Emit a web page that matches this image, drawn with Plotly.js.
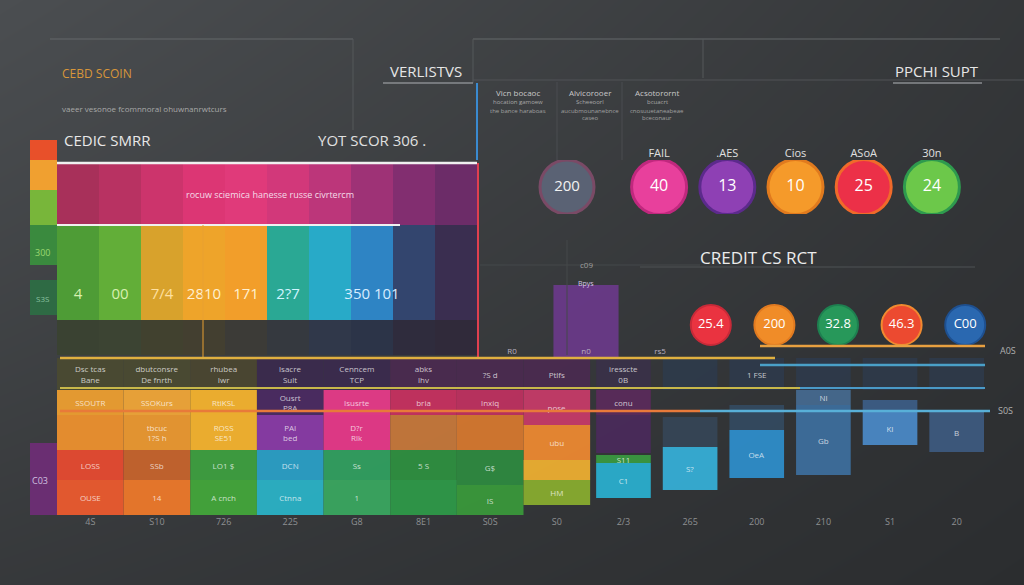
<!DOCTYPE html>
<html>
<head>
<meta charset="utf-8">
<script src="https://cdn.plot.ly/plotly-3.0.1.min.js"></script>
<style>html,body{margin:0;padding:0;background:#333538;}#chart{width:1024px;height:585px;}</style>
</head>
<body>
<div id="chart"></div>
<script>
// ---------------- DATA ----------------
// top-left band chart (ten segments)
const bandCats = ["b1","b2","b3","b4","b5","b6","b7","b8","b9","b10"];
const bandText = ["4","00","7/4","2810","171","2?7","","350 101","",""];
const bandDark = [35,35,35,35,35,35,35,35,35,35];
const bandBright = [95,95,95,95,95,95,95,95,95,95];
const bandPink = [62,62,62,62,62,62,62,62,62,62];

// left strip
const stripCats = ["L","L","L","L","L","L"];
const stripBase = [0,200,250,290,325,355];
const stripLen = [72,35,40,35,30,22];

// circles row 1
const slateCat = ["VSR"];
const slateVal = [200];
const circCats = ["FAIL",".AES","Cios","ASoA","30n"];
const circVals = [40,13,10,25,24];

// circles row 2
const circ2Cats = ["25.4","200","32.8","46.3","C00"];
const circ2Vals = [25.4,200,32.8,46.3,0];

// middle purple bar
const midCats = ["R0","n0","rs5"];
const midVals = [0,73,0];

// bottom grid (14 columns, 5 layers)
const gridCats = ["4S","S10","726","225","G8","8E1","S0S","S0","2/3","265","200","210","S1","20"];
const l1Base = [0,0,0,0,0,0,0,10,17,25,37,40,70,63];
const l1H    = [35,35,35,35,35,35,30,25,35,43,48,70,33,40];
const l1Text = ["OUSE","14","A cnch","Ctnna","1","","IS","HM","C1","S?","OeA","Gb","KI","B"];
const l2Base = [35,35,35,35,35,35,30,35,52,68,85,110,103,0];
const l2H    = [30,30,30,30,30,30,35,20,8,30,25,15,12,0];
const l2Text = ["LOSS","SSb","LO1 $","DCN","Ss","5 S","G$","","S11","","","Nl","",""];
const l3Base = [65,65,65,65,65,65,65,55,62,0,0,0,0,0];
const l3H    = [35,35,35,35,35,35,35,35,38,0,0,0,0,0];
const l3Text = ["","tbcuc<br>1?S h","ROSS<br>SE51","PAI<br>bed","D?r<br>Rlk","","","ubu","","","","","",""];
const l4Base = [100,100,100,100,100,100,100,90,100,0,0,0,0,0];
const l4H    = [25,25,25,25,25,25,25,35,25,0,0,0,0,0];
const l4Text = ["SSOUTR","SSOKurs","RtiKSL","Ousrt<br>P8A","Isusrte","bria","lnxiq","pose","conu","","","","",""];
const l5Base = [125,125,125,125,125,125,125,125,125,125,125,125,125,125];
const l5H    = [32,32,32,32,32,32,32,32,32,32,32,32,32,32];
const l5Text = ["Dsc tcas<br>Bane","dbutconsre<br>De fnrth","rhubea<br>Iwr","lsacre<br>Sult","Cenncem<br>TCP","abks<br>lhv","?S d","Ptlfs","iresscte<br>0B","","1 FSE","","",""];

// ---------------- STYLES ----------------
const FONT = "Open Sans, DejaVu Sans, sans-serif";
const bandDarkColors = ["#3a4232","#3c4433","#41412f","#433f30","#3c3b37","#35393f","#30384a","#2c3448","#2f2c3d","#302a3a"];
const bandBrightColors = ["#4e9c36","#62ae38","#d8a22c","#eea42a","#f29e2a","#2aa894","#28aac8","#2e84c4","#33456e","#3a2e50"];
const bandPinkColors = ["#a8305a","#b83262","#cc346c","#dc3674","#e03a7a","#d2387a","#bc367a","#9e3276","#822e70","#6c2c68"];
const stripColors = ["#6a2e72","#2e6a44","#3a8a3e","#78b63a","#f0a030","#e8502a"];
const circColors = ["#e8409c","#8e40b4","#f59a2a","#ec3048","#6cc84a"];
const circLines = ["#c0287e","#5c2a8c","#e07a1e","#f06a2a","#2e9a4e"];
const circ2Colors = ["#ea3340","#f08c28","#27985a","#ec4a30","#2a68b0"];
const circ2Lines = ["#c82a38","#e07a20","#1e8050","#f08a30","#1e5090"];
const l1Colors = ["#ee5a2e","#f07a2a","#43a83a","#2ab4c8","#3aa860","#2e9a48","#3a9a3a","#8aae2e","#2ab0d0","#36b0d8","#2e8fcc","#3d6f9e","#4a8ac8","#3d5a80"];
const l2Colors = ["#e84a30","#c8642c","#3da040","#2aa0c8","#30a060","#2e9040","#2e8a40","#f0b030","#3a9a40","#364656","#344a60","#466a90","#3c5e86","#3d5a80"];
const l3Colors = ["#f0922e","#ee9a30","#f7b52e","#8a3aa8","#e8388a","#c8783a","#d8782e","#f08a30","#4a2a5a","#000","#000","#000","#000","#000"];
const l4Colors = ["#f0a030","#f3a838","#f7b52e","#4a2a62","#e83a8a","#c83060","#c03060","#c83a68","#5a2a5a","#000","#000","#000","#000","#000"];
const l5Colors = ["#4a4a32","#4a4a32","#4a4630","#3a2a4e","#3a2a4e","#4a2a50","#4a2a50","#4a2a50","#3a3048","#2e3a4a","#2e3a4a","#2e3a4a","#2e3a4a","#2e3a4a"];

const fx = p => p / 1024;
const fy = p => 1 - p / 585;
const domX = (a, b) => [fx(a), fx(b)];
const domY = (top, bottom) => [fy(bottom), fy(top)];
const hid = (extra) => Object.assign({visible:false, fixedrange:true, showgrid:false, zeroline:false}, extra);

const traces = [];
// background gradient
traces.push({type:'heatmap', x:[0,1], y:[0,1], z:[[0.35,0.0],[1,0.3]], zsmooth:'best',
  colorscale:[[0,'#2b2d2f'],[1,'#4b4e51']], showscale:false, hoverinfo:'skip', xaxis:'x', yaxis:'y'});

// band chart
const sum = (a,b) => a.map((v,i)=>v+b[i]);
traces.push({type:'bar', x:bandCats, y:bandDark, base:bandCats.map(()=>0), width:1, xaxis:'x2', yaxis:'y2',
  marker:{color:bandDarkColors, line:{width:0}}, hoverinfo:'skip'});
traces.push({type:'bar', x:bandCats, y:bandBright, base:bandDark, width:1, xaxis:'x2', yaxis:'y2',
  marker:{color:bandBrightColors, line:{width:0}}, hoverinfo:'skip'});
traces.push({type:'bar', x:bandCats, y:bandPink, base:sum(bandDark,bandBright), width:1, xaxis:'x2', yaxis:'y2',
  marker:{color:bandPinkColors, line:{width:0}}, hoverinfo:'skip'});
traces.push({type:'scatter', mode:'text', x:bandCats, y:bandCats.map(()=>60), text:bandText, xaxis:'x2', yaxis:'y2',
  textfont:{family:FONT, size:15, color:['#d8f0b0','#d8f0b0','#ffe0a0','#fff0d0','#fff0d0','#d0f4ff','#fff','#d8ecff','#fff','#fff']}, hoverinfo:'skip'});

// left strip
traces.push({type:'bar', x:stripCats, y:stripLen, base:stripBase, width:1, xaxis:'x8', yaxis:'y8',
  marker:{color:stripColors, line:{width:0}}, hoverinfo:'skip'});

// middle purple bar
traces.push({type:'bar', x:midCats, y:midVals, width:0.88, xaxis:'x7', yaxis:'y7',
  marker:{color:'#6c3a8c', opacity:0.9, line:{width:0}}, hoverinfo:'skip'});
traces.push({type:'scatter', mode:'text', x:midCats, y:midCats.map(()=>6), text:midCats, xaxis:'x7', yaxis:'y7',
  textfont:{family:FONT, size:8, color:'#b8b0c0'}, hoverinfo:'skip'});

// bottom grid layers
const layer = (base, h, colors, text) => ({type:'bar', x:gridCats, y:h, base:base,
  width:gridCats.map((c,i)=> i < 8 ? 1 : 0.82), xaxis:'x6', yaxis:'y6',
  marker:{color:colors, opacity:0.93, line:{width:0}}, text:text, textposition:'inside', insidetextanchor:'middle',
  textangle:0, constraintext:'none', textfont:{family:FONT, size:8, color:'rgba(255,255,255,0.72)'}, hoverinfo:'skip'});
traces.push(layer(l5Base, l5H, l5Colors, l5Text));
traces.push(layer(l4Base, l4H, l4Colors, l4Text));
traces.push(layer(l3Base, l3H, l3Colors, l3Text));
traces.push(layer(l2Base, l2H, l2Colors, l2Text));
traces.push(layer(l1Base, l1H, l1Colors, l1Text));

// circles row 1
traces.push({type:'scatter', mode:'markers+text', x:slateCat, y:[0.5], text:slateVal.map(String), xaxis:'x4', yaxis:'y4',
  marker:{size:54, color:'#5a6274', line:{width:3, color:'#7a4a66'}},
  textfont:{family:FONT, size:15, color:'#f2f2f2'}, textposition:'middle center', hoverinfo:'skip'});
traces.push({type:'scatter', mode:'markers+text', x:circCats, y:circCats.map(()=>0.5), text:circVals.map(String), xaxis:'x3', yaxis:'y3',
  marker:{size:55, color:circColors, line:{width:3, color:circLines}},
  textfont:{family:FONT, size:16, color:'#ffffff'}, textposition:'middle center', hoverinfo:'skip'});

// circles row 2
traces.push({type:'scatter', mode:'markers+text', x:circ2Cats, y:circ2Cats.map(()=>0.5), text:circ2Cats, xaxis:'x5', yaxis:'y5',
  marker:{size:40, color:circ2Colors, line:{width:2, color:circ2Lines}},
  textfont:{family:FONT, size:13, color:'#ffffff'}, textposition:'middle center', hoverinfo:'skip'});

// ---------------- DECORATION ----------------
const line = (x0,y0,x1,y1,color,w) => ({type:'line', xref:'paper', yref:'paper', x0:fx(x0), y0:fy(y0), x1:fx(x1), y1:fy(y1), line:{color:color, width:w}});
const shapes = [
  line(50,39,353,39,'#65686b',1), line(353,39,353,130,'#55585b',1),
  line(473,39,1000,39,'#65686b',1), line(703,39,703,78,'#55585b',1), line(473,39,473,83,'#55585b',1),
  line(473,80,1024,80,'#505356',1),
  line(383,83,473,83,'#8a8d90',1.5), line(477,83,477,160,'#3a8ad0',2),
  line(557,82,557,160,'#4a4d50',1), line(622,82,622,160,'#4a4d50',1),
  line(893,83,982,83,'#8a8d90',1.5),
  line(640,267,975,267,'#4f5255',1),
  line(480,265,700,265,'#45484b',1), line(567,240,567,355,'#45484b',1),
  line(57,163,477,163,'#f0f0f0',2.5), line(57,225,400,225,'#f0f0f0',2),
  line(478,163,478,357,'#e04050',2),
  line(203,225,203,358,'#e8a030',1),
  line(760,346,985,346,'#e8a040',2.5),
  line(60,358,775,358,'#e0b040',2.5), line(760,365,985,365,'#4aa0c8',2.5),
  line(60,388,800,388,'#c8b84a',2), line(800,388,985,388,'#4a9ac8',2),
  line(60,411,700,411,'#e87a3a',2.5), line(700,411,990,411,'#58b0d8',2.5)
];

const ann = (text, x, y, size, color, anchor, extra) => Object.assign({text:text, xref:'paper', yref:'paper', x:fx(x), y:fy(y),
  xanchor:anchor || 'center', yanchor:'middle', showarrow:false, font:{family:FONT, size:size, color:color}}, extra || {});
const annotations = [
  ann('CEBD SCOIN', 60, 73, 12, '#d8963a', 'left'),
  ann('vaeer vesonoe fcomnnoral ohuwnanrwtcurs', 60, 108, 8, '#a8a8a8', 'left'),
  ann('CEDIC SMRR', 62, 140, 15, '#e8e8e8', 'left'),
  ann('YOT SCOR 306 .', 316, 140, 15, '#e0e0e0', 'left'),
  ann('VERLISTVS', 388, 71, 15, '#e6e6e6', 'left'),
  ann('Vicn bocaoc', 518, 92, 8, '#c8c8c8'), ann('hocation gamoew', 518, 102, 6, '#a8a8a8'), ann('the bance haraboas', 518, 111, 6, '#a0a0a0'),
  ann('Alvicorooer', 590, 92, 8, '#c8c8c8'), ann('Scheeoorl', 590, 102, 6, '#a8a8a8'), ann('aucubmounanebnce', 590, 111, 6, '#a0a0a0'), ann('caseo', 590, 118, 6, '#a0a0a0'),
  ann('Acsotorornt', 657, 92, 8, '#c8c8c8'), ann('bcuacrt', 657, 102, 6, '#a8a8a8'), ann('cnosuuetaneabeae', 657, 111, 6, '#a0a0a0'), ann('bceconaur', 657, 118, 6, '#a0a0a0'),
  ann('PPCHI SUPT', 937, 71, 15, '#e6e6e6'),
  ann('CREDIT CS RCT', 758, 257, 17, '#ececec'),
  ann('rocuw sciemica hanesse russe civrtercm', 270, 195, 9, '#f4dce8'),
  ann('300', 42, 252, 9, '#9ad870'), ann('S3S', 42, 298, 8, '#8ac0a0'), ann('C03', 40, 480, 9, '#d0c0e0'),
  ann('c09', 586, 265, 8, '#a0a0a0'), ann('Bpys', 586, 283, 7, '#d8c8e8'),
  ann('A0S', 1008, 350, 9, '#b0b0b0'), ann('S0S', 1005, 410, 9, '#b0b0b0')
];

const layout = {
  width:1024, height:585, margin:{l:0,r:0,t:0,b:0}, paper_bgcolor:'#333538', plot_bgcolor:'rgba(0,0,0,0)',
  showlegend:false, barmode:'overlay', font:{family:FONT},
  xaxis: hid({domain:[0,1], range:[0,1]}), yaxis: hid({domain:[0,1], range:[0,1]}),
  xaxis2: hid({domain:domX(57,477), range:[-0.5,9.5], type:'category', anchor:'y2'}),
  yaxis2: hid({domain:domY(163,355), range:[0,192], anchor:'x2'}),
  xaxis3: {domain:domX(625,966), range:[-0.5,4.5], type:'category', anchor:'y3', side:'top', showgrid:false, zeroline:false,
           showline:false, ticks:'', fixedrange:true, tickfont:{family:FONT, size:11, color:'#e0e0e0'}},
  yaxis3: hid({domain:domY(160,214), range:[0,1], anchor:'x3'}),
  xaxis4: hid({domain:domX(537,597), range:[-0.5,0.5], type:'category', anchor:'y4'}),
  yaxis4: hid({domain:domY(160,214), range:[0,1], anchor:'x4'}),
  xaxis5: hid({domain:domX(679,997), range:[-0.5,4.5], type:'category', anchor:'y5'}),
  yaxis5: hid({domain:domY(304,346), range:[0,1], anchor:'x5'}),
  xaxis6: {domain:domX(57,990), range:[-0.5,13.5], type:'category', anchor:'y6', showgrid:false, zeroline:false,
           showline:false, ticks:'', fixedrange:true, tickfont:{family:FONT, size:9, color:'#8e9092'}},
  yaxis6: hid({domain:domY(358,515), range:[0,157], anchor:'x6'}),
  xaxis7: hid({domain:domX(475,697), range:[-0.5,2.5], type:'category', anchor:'y7'}),
  yaxis7: hid({domain:domY(270,358), range:[0,88], anchor:'x7'}),
  xaxis8: hid({domain:domX(30,57), range:[-0.5,0.5], type:'category', anchor:'y8'}),
  yaxis8: hid({domain:domY(140,515), range:[0,375], anchor:'x8'}),
  shapes: shapes, annotations: annotations
};

Plotly.newPlot('chart', traces, layout, {displayModeBar:false, staticPlot:true});
</script>
</body>
</html>
